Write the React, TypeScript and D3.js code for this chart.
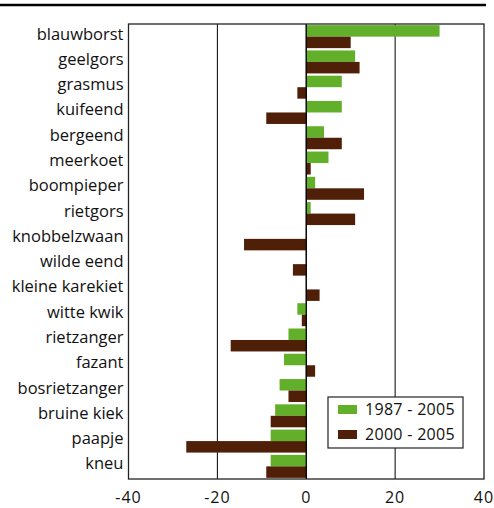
import { useEffect, useRef } from "react";
import * as d3 from "d3";

const categories = [
  "blauwborst", "geelgors", "grasmus", "kuifeend", "bergeend", "meerkoet",
  "boompieper", "rietgors", "knobbelzwaan", "wilde eend", "kleine karekiet",
  "witte kwik", "rietzanger", "fazant", "bosrietzanger", "bruine kiek", "paapje", "kneu",
];
const series1987 = [30, 11, 8, 8, 4, 5, 2, 1, 0, 0, 0, -2, -4, -5, -6, -7, -8, -8];
const series2000 = [10, 12, -2, -9, 8, 1, 13, 11, -14, -3, 3, -1, -17, 2, -4, -8, -27, -9];
const seriesNames = ["1987 - 2005", "2000 - 2005"];
const colors = ["#62b02a", "#501f08"];
const ticks = [-40, -20, 0, 20, 40];

const W = 494;
const H = 508;
const margin = { top: 24, right: 10, bottom: 29, left: 128.5 };
const font = "'Open Sans', sans-serif";

export default function App() {
  const svgRef = useRef<SVGSVGElement>(null);

  useEffect(() => {
    if (!svgRef.current) return;
    const svg = d3.select(svgRef.current);
    svg.selectAll("*").remove();

    const x = d3.scaleLinear().domain([-40, 40]).range([margin.left, 484]);
    const y = d3.scaleBand().domain(categories).range([margin.top, H - margin.bottom]);
    const inner = d3.scaleBand().domain(seriesNames).range([0, y.bandwidth()]).paddingOuter(0.1);

    // top rule
    svg.append("line")
      .attr("x1", 0).attr("x2", 486).attr("y1", 5).attr("y2", 5)
      .attr("stroke", "#000").attr("stroke-width", 2.5);

    // grid
    svg.append("g").selectAll("line")
      .data([-20, 0, 20])
      .join("line")
      .attr("x1", d => x(d)).attr("x2", d => x(d))
      .attr("y1", margin.top).attr("y2", H - margin.bottom)
      .attr("stroke", "#000").attr("stroke-width", 1);

    const data = categories.map((c, i) => ({ c, vals: [series1987[i], series2000[i]] }));

    const groups = svg.append("g").selectAll("g")
      .data(data)
      .join("g")
      .attr("transform", d => `translate(0,${y(d.c)})`);

    groups.selectAll("rect")
      .data(d => d.vals.map((v, j) => ({ v, j })))
      .join("rect")
      .attr("x", d => x(Math.min(0, d.v)))
      .attr("width", d => Math.abs(x(d.v) - x(0)))
      .attr("y", d => inner(seriesNames[d.j])!)
      .attr("height", inner.bandwidth())
      .attr("fill", d => colors[d.j]);

    // zero line on top
    svg.append("line")
      .attr("x1", x(0)).attr("x2", x(0))
      .attr("y1", margin.top).attr("y2", H - margin.bottom)
      .attr("stroke", "#000").attr("stroke-width", 1.2);

    // frame
    svg.append("rect")
      .attr("x", margin.left).attr("y", margin.top)
      .attr("width", 484 - margin.left).attr("height", H - margin.bottom - margin.top)
      .attr("fill", "none").attr("stroke", "#222").attr("stroke-width", 1.3);

    // category labels
    svg.append("g").selectAll("text")
      .data(categories)
      .join("text")
      .attr("x", margin.left - 5)
      .attr("y", d => y(d)! + y.bandwidth() / 2 + 3)
      .attr("text-anchor", "end")
      .attr("font-family", font)
      .attr("font-size", 16.5)
      .attr("fill", "#111")
      .text(d => d);

    // tick labels
    svg.append("g").selectAll("text")
      .data(ticks)
      .join("text")
      .attr("x", d => x(d))
      .attr("y", 503)
      .attr("text-anchor", "middle")
      .attr("font-family", font)
      .attr("font-size", 16)
      .attr("letter-spacing", 1)
      .attr("fill", "#111")
      .text(d => String(d));

    // legend
    const lg = svg.append("g").attr("transform", "translate(328,397)");
    lg.append("rect")
      .attr("width", 135).attr("height", 51)
      .attr("fill", "#fff").attr("stroke", "#222").attr("stroke-width", 1.2);
    seriesNames.forEach((s, i) => {
      lg.append("rect")
        .attr("x", 10).attr("y", 8 + i * 25)
        .attr("width", 19).attr("height", 9)
        .attr("fill", colors[i]);
      lg.append("text")
        .attr("x", 37).attr("y", 18 + i * 25)
        .attr("font-family", font)
        .attr("font-size", 16)
        .attr("letter-spacing", 0.3)
        .attr("fill", "#111")
        .text(s);
    });
  }, []);

  return (
    <div style={{ position: "fixed", left: 0, top: 0 }}>
      <svg ref={svgRef} width={W} height={H} style={{ display: "block", background: "#fff" }} />
    </div>
  );
}
